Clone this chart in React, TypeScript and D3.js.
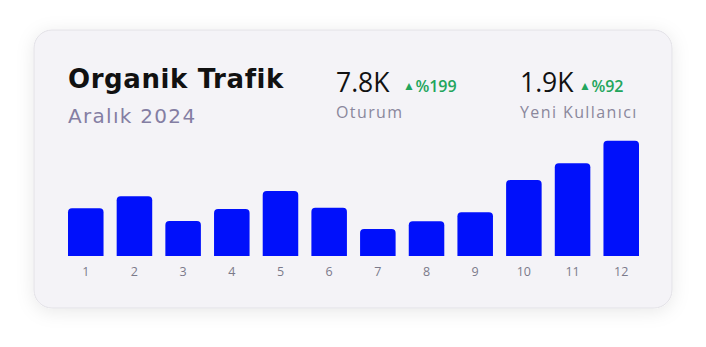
import React from "react";
import * as d3 from "d3";

const days = ["1", "2", "3", "4", "5", "6", "7", "8", "9", "10", "11", "12"];
const sessions = [477, 597, 350, 470, 650, 483, 270, 347, 437, 760, 927, 1153];

const titleText = "Organik Trafik";
const subtitleText = "Aralık 2024";
const kpiValues = ["7.8K", "1.9K"];
const kpiChanges = ["%199", "%92"];
const kpiLabels = ["Oturum", "Yeni Kullanıcı"];

const W = 706;
const H = 347;
const FONT = "'Open Sans', sans-serif";
const WIDE = "'DejaVu Sans', sans-serif";

function topRoundedBar(x: number, y: number, w: number, h: number, r: number) {
  const rr = Math.min(r, h, w / 2);
  return `M${x},${y + h}V${y + rr}Q${x},${y} ${x + rr},${y}H${x + w - rr}Q${x + w},${y} ${x + w},${y + rr}V${y + h}Z`;
}

export default function App() {
  const x = d3.scaleBand<string>().domain(days).range([68, 639]).paddingInner(0.27).paddingOuter(0);
  const y = d3.scaleLinear().domain([0, 1153]).range([256, 140.7]);
  const kpiX = [336, 520];

  return (
    <svg width={W} height={H} style={{ position: "absolute", left: 0, top: 0 }} fontFamily={FONT}>
      <defs>
        <filter id="sh" x="-20%" y="-20%" width="140%" height="140%">
          <feDropShadow dx="0" dy="3" stdDeviation="9" floodColor="#000" floodOpacity="0.09" />
        </filter>
      </defs>
      <rect width={W} height={H} fill="#ffffff" />
      <rect x={34} y={30} width={638} height={278} rx={18} fill="#f4f3f7" stroke="#e2e1e6" strokeWidth={1} filter="url(#sh)" />
      <text x={68} y={88} fontFamily={WIDE} fontSize={26} fontWeight={700} fill="#111111" letterSpacing={0.6}>{titleText}</text>
      <text x={68} y={123} fontFamily={WIDE} fontSize={20} fill="#847ea3" letterSpacing={1.3}>{subtitleText}</text>
      {kpiValues.map((v, i) => (
        <g key={i}>
          <text x={kpiX[i]} y={91.5} fontSize={26.5} fontWeight={500} fill="#111111">{v}</text>
          <text x={kpiX[i] + (i === 0 ? 67 : 59)} y={91.5} fontSize={16} fontWeight={600} fill="#22a55c">
            <tspan fontSize={12} dy={-1.5}>▲</tspan>
            <tspan dy={1.5} dx={0.5}>{kpiChanges[i]}</tspan>
          </text>
          <text x={kpiX[i]} y={117.5} fontSize={16} fill="#8a879c" letterSpacing={1.4}>{kpiLabels[i]}</text>
        </g>
      ))}
      {sessions.map((s, i) => (
        <path key={i} d={topRoundedBar(x(days[i])!, y(s), x.bandwidth(), y(0) - y(s), 4)} fill="#0010fb" />
      ))}
      {days.map((d) => (
        <text key={d} x={x(d)! + x.bandwidth() / 2} y={276} textAnchor="middle" fontSize={12.5} fontWeight={500} fill="#7b7a8a">{d}</text>
      ))}
    </svg>
  );
}
